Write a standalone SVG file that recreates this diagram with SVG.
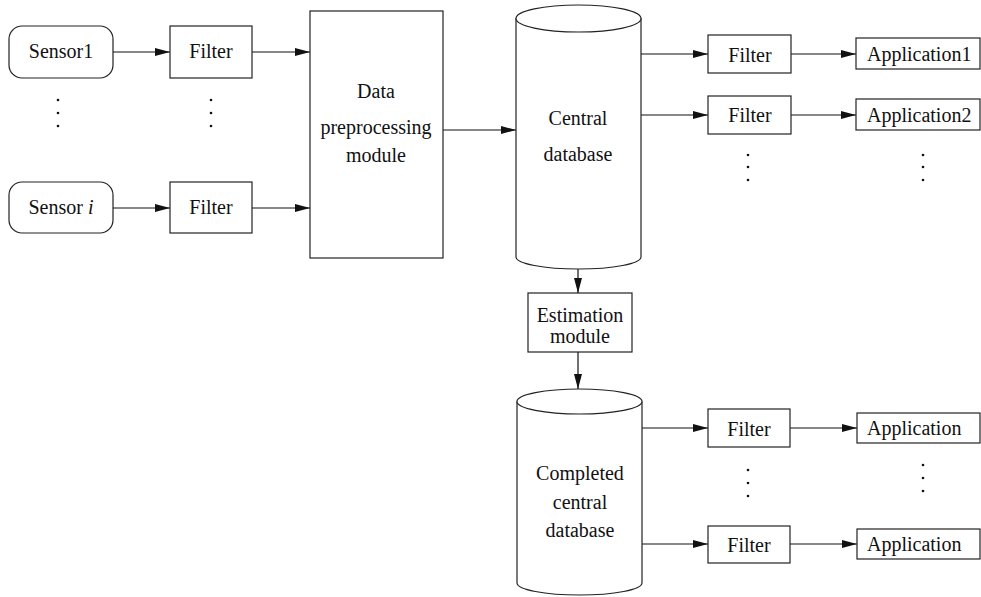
<svg xmlns="http://www.w3.org/2000/svg" width="981" height="597" viewBox="0 0 981 597">
<style>
.box{fill:#fff;stroke:#222;stroke-width:1.2}
.cyl{fill:#fff;stroke:#222;stroke-width:1.2}
.t{font-family:"Liberation Serif","Times New Roman",serif;font-size:20px;fill:#111;text-anchor:middle}
.ts{font-family:"Liberation Serif","Times New Roman",serif;font-size:20px;fill:#111;text-anchor:start}
.c{stroke:#111;stroke-width:1.2;fill:none;marker-end:url(#ah)}
.dot{fill:#111}
</style>
<defs>
<marker id="ah" markerUnits="userSpaceOnUse" markerWidth="15" markerHeight="8" refX="15" refY="4" orient="auto">
<path d="M0,0 L15,4 L0,8 z" fill="#111"/>
</marker>
</defs>
<rect width="981" height="597" fill="#fff"/>
<g id="connectors">
<line class="c" x1="113" y1="52" x2="170" y2="52"/>
<line class="c" x1="113" y1="208" x2="170" y2="208"/>
<line class="c" x1="252" y1="52" x2="310" y2="52"/>
<line class="c" x1="252" y1="208" x2="310" y2="208"/>
<line class="c" x1="443" y1="130" x2="516" y2="130"/>
<line class="c" x1="641" y1="54" x2="708" y2="54"/>
<line class="c" x1="641" y1="115" x2="708" y2="115"/>
<line class="c" x1="791" y1="54" x2="856" y2="54"/>
<line class="c" x1="791" y1="115" x2="856" y2="115"/>
<line class="c" x1="578" y1="269" x2="578" y2="293"/>
<line class="c" x1="578" y1="352" x2="578" y2="389"/>
<line class="c" x1="642" y1="428" x2="708" y2="428"/>
<line class="c" x1="642" y1="544" x2="708" y2="544"/>
<line class="c" x1="790" y1="428" x2="857" y2="428"/>
<line class="c" x1="790" y1="544" x2="857" y2="544"/>
</g>
<g id="sensor1"><rect class="box" x="9" y="26" width="104" height="52" rx="13"/><text class="t" x="61" y="58">Sensor1</text></g>
<g id="sensorI"><rect class="box" x="9" y="182" width="104" height="51" rx="13"/><text class="t" x="61" y="214">Sensor <tspan font-style="italic">i</tspan></text></g>
<g id="dots-sensor"><circle class="dot" cx="58" cy="100" r="1.3"/><circle class="dot" cx="58" cy="113" r="1.3"/><circle class="dot" cx="58" cy="126" r="1.3"/></g>
<g id="filter1"><rect class="box" x="170" y="26" width="82" height="52"/><text class="t" x="211" y="58">Filter</text></g>
<g id="filterI"><rect class="box" x="170" y="182" width="82" height="51"/><text class="t" x="211" y="214">Filter</text></g>
<g id="dots-filter"><circle class="dot" cx="211" cy="100" r="1.3"/><circle class="dot" cx="211" cy="113" r="1.3"/><circle class="dot" cx="211" cy="126" r="1.3"/></g>
<g id="preprocessing"><rect class="box" x="310" y="11" width="133" height="247"/>
<text class="t" x="376" y="98">Data</text><text class="t" x="376" y="134">preprocessing</text><text class="t" x="376" y="162">module</text></g>
<g id="central-db">
<path class="cyl" d="M516,18 L516,257 A62.5,12 0 0 0 641,257 L641,18"/>
<ellipse class="cyl" cx="578.5" cy="18.5" rx="62.5" ry="13.5"/>
<text class="t" x="578" y="125">Central</text><text class="t" x="578" y="161">database</text></g>
<g id="filterR1"><rect class="box" x="708" y="35" width="83" height="38"/><text class="t" x="750" y="62">Filter</text></g>
<g id="filterR2"><rect class="box" x="708" y="96" width="83" height="38"/><text class="t" x="750" y="122">Filter</text></g>
<g id="dots-filterR"><circle class="dot" cx="748" cy="155" r="1.3"/><circle class="dot" cx="748" cy="167" r="1.3"/><circle class="dot" cx="748" cy="180" r="1.3"/></g>
<g id="app1"><rect class="box" x="856" y="38" width="124" height="31"/><text class="ts" x="867" y="61">Application1</text></g>
<g id="app2"><rect class="box" x="856" y="99" width="124" height="31"/><text class="ts" x="867" y="122">Application2</text></g>
<g id="dots-appR"><circle class="dot" cx="923" cy="155" r="1.3"/><circle class="dot" cx="923" cy="167" r="1.3"/><circle class="dot" cx="923" cy="180" r="1.3"/></g>
<g id="estimation"><rect class="box" x="528" y="293" width="104" height="59"/><text class="t" x="580" y="322">Estimation</text><text class="t" x="580" y="343">module</text></g>
<g id="completed-db">
<path class="cyl" d="M517,401.5 L517,583 A62.5,12 0 0 0 642,583 L642,401.5"/>
<ellipse class="cyl" cx="579.5" cy="401.5" rx="62.5" ry="12.5"/>
<text class="t" x="580" y="480">Completed</text><text class="t" x="580" y="509">central</text><text class="t" x="580" y="537">database</text></g>
<g id="filterB1"><rect class="box" x="708" y="409" width="82" height="38"/><text class="t" x="749" y="436">Filter</text></g>
<g id="filterB2"><rect class="box" x="708" y="526" width="82" height="37"/><text class="t" x="749" y="552">Filter</text></g>
<g id="dots-filterB"><circle class="dot" cx="748" cy="470" r="1.3"/><circle class="dot" cx="748" cy="483" r="1.3"/><circle class="dot" cx="748" cy="496" r="1.3"/></g>
<g id="appB1"><rect class="box" x="857" y="413" width="123" height="30"/><text class="ts" x="867" y="435">Application</text></g>
<g id="appB2"><rect class="box" x="857" y="529" width="123" height="30"/><text class="ts" x="867" y="551">Application</text></g>
<g id="dots-appB"><circle class="dot" cx="923" cy="465" r="1.3"/><circle class="dot" cx="923" cy="478" r="1.3"/><circle class="dot" cx="923" cy="491" r="1.3"/></g>
</svg>
